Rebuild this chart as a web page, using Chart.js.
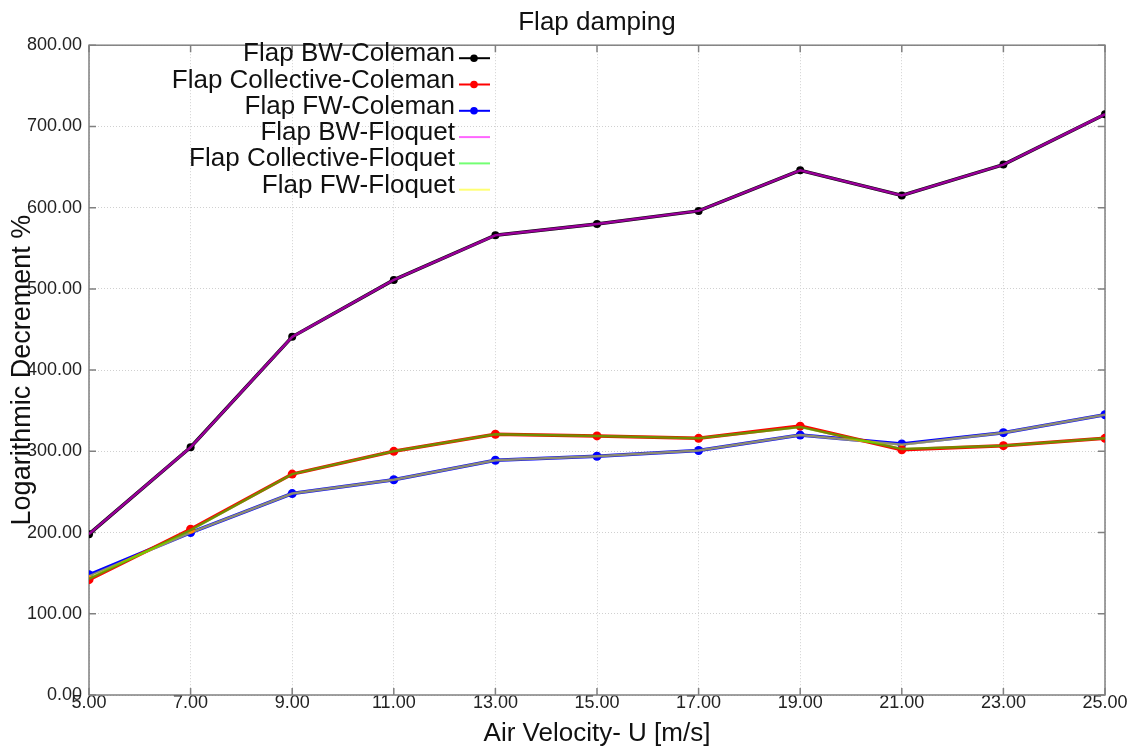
<!DOCTYPE html>
<html>
<head>
<meta charset="utf-8">
<title>Flap damping</title>
<script src="https://cdn.jsdelivr.net/npm/chart.js@4/dist/chart.umd.min.js"></script>
<style>
html, body { margin: 0; padding: 0; background: #fff; }
#wrap { width: 1128px; height: 749px; }
</style>
</head>
<body>
<div id="wrap"><canvas id="plotHere"></canvas></div>
<script>
// air velocity (x) and log decrement values (y)
const velocity = [5, 7, 9, 11, 13, 15, 17, 19, 21, 23, 25];
const bwColeman   = [198, 305, 441, 511, 566, 580, 596, 646, 615, 653, 715];
const collColeman = [142, 204, 272, 300, 321, 319, 316, 331, 302, 307, 316];
const fwColeman   = [148, 200, 248, 265, 289, 294, 301, 320, 309, 323, 345];
const bwFloquet   = [198, 305, 441, 511, 566, 580, 596, 646, 615, 653, 715];
const collFloquet = [143, 203, 272, 300, 321, 319, 316, 330, 303, 307, 316];
const fwFloquet   = [146, 200, 248, 265, 289, 294, 301, 320, 308, 323, 345];
const seriesNames = ["Flap BW-Coleman", "Flap Collective-Coleman", "Flap FW-Coleman",
                     "Flap BW-Floquet", "Flap Collective-Floquet", "Flap FW-Floquet"];

const FONT = '"Liberation Sans", Arial, sans-serif';
Chart.defaults.font.family = FONT;

function pts(ys) {
	return ys.map((y, i) => ({ x: velocity[i], y: y }));
}

function coleman(name, ys, col, r) {
	return { label: name, data: pts(ys), borderColor: col, backgroundColor: col,
		borderWidth: 3.5, pointRadius: r, pointBorderWidth: 0, pointBackgroundColor: col,
		tension: 0, order: 1 };
}
// Floquet lines are half see-through, drawn over the Coleman ones
function floquet(name, ys, col) {
	return { label: name, data: pts(ys), borderColor: col, backgroundColor: col,
		borderWidth: 2.5, pointRadius: 0, tension: 0, order: 0 };
}

// frame round the plot and small inward tick marks
const frame = {
	id: 'frame',
	beforeDatasetsDraw(chart) {
		const { ctx, chartArea: a, scales } = chart;
		ctx.save();
		ctx.strokeStyle = '#808080';
		ctx.lineWidth = 1.5;
		ctx.strokeRect(a.left, a.top, a.right - a.left, a.bottom - a.top);
		ctx.beginPath();
		scales.y.ticks.forEach(t => {
			const p = scales.y.getPixelForValue(t.value);
			ctx.moveTo(a.left, p); ctx.lineTo(a.left + 7, p);
			ctx.moveTo(a.right, p); ctx.lineTo(a.right - 7, p);
		});
		scales.x.ticks.forEach(t => {
			const p = scales.x.getPixelForValue(t.value);
			ctx.moveTo(p, a.bottom); ctx.lineTo(p, a.bottom - 7);
			ctx.moveTo(p, a.top); ctx.lineTo(p, a.top + 7);
		});
		ctx.stroke();
		ctx.restore();
	}
};

// legend: text right aligned, line sample on the right
const flapLegend = {
	id: 'flapLegend',
	afterDraw(chart) {
		const ctx = chart.ctx;
		const a = chart.chartArea;
		const right = a.left + 366;
		ctx.save();
		ctx.font = '26px ' + FONT;
		ctx.textAlign = 'right';
		ctx.textBaseline = 'alphabetic';
		chart.data.datasets.forEach((ds, i) => {
			const base = a.top + 16 + i * 26.3;
			ctx.fillStyle = '#111';
			ctx.fillText(ds.label, right, base);
			const ly = base - 3;
			ctx.strokeStyle = ds.borderColor;
			ctx.lineWidth = 2;
			ctx.beginPath();
			ctx.moveTo(right + 4, ly);
			ctx.lineTo(right + 35, ly);
			ctx.stroke();
			if (ds.pointRadius > 0) {
				ctx.fillStyle = ds.borderColor;
				ctx.beginPath();
				ctx.arc(right + 19, ly, 3.8, 0, 2 * Math.PI);
				ctx.fill();
			}
		});
		ctx.restore();
	}
};

window.addEventListener("load", function () {
	new Chart(document.getElementById('plotHere').getContext('2d'), {
		type: 'line',
		data: {
			datasets: [
				coleman(seriesNames[0], bwColeman, '#000000', 4),
				coleman(seriesNames[1], collColeman, '#ff0000', 4.5),
				coleman(seriesNames[2], fwColeman, '#0000ff', 4.5),
				floquet(seriesNames[3], bwFloquet, 'rgba(255, 0, 255, 0.6)'),
				floquet(seriesNames[4], collFloquet, 'rgba(0, 255, 0, 0.55)'),
				floquet(seriesNames[5], fwFloquet, 'rgba(255, 255, 0, 0.55)')
			]
		},
		options: {
			responsive: true,
			maintainAspectRatio: false,
			animation: false,
			events: [],
			layout: { padding: { left: 0, right: 23, top: 0, bottom: 0 } },
			plugins: {
				legend: { display: false },
				tooltip: { enabled: false },
				title: {
					display: true, text: 'Flap damping', fullSize: false,
					color: '#111', font: { size: 26, weight: 'normal' },
					padding: { top: 7, bottom: 7 }
				}
			},
			scales: {
				x: {
					type: 'linear', min: 5, max: 25,
					ticks: { stepSize: 2, color: '#222', font: { size: 18 }, padding: -3,
						maxRotation: 0, autoSkip: false, callback: v => v.toFixed(2) },
					grid: { color: '#d0d0d0', drawTicks: false },
					border: { display: false, dash: [1, 2] },
					title: { display: true, text: 'Air Velocity- U [m/s]', color: '#111',
						font: { size: 26 }, padding: { top: 0, bottom: 0 } },
					afterFit: s => { s.height = 54; s.paddingLeft = 0; s.paddingRight = 0; }
				},
				y: {
					min: 0, max: 800,
					ticks: { stepSize: 100, color: '#222', font: { size: 18 }, padding: 7,
						callback: v => v.toFixed(2) },
					grid: { color: '#d0d0d0', drawTicks: false },
					border: { display: false, dash: [1, 2] },
					title: { display: true, text: 'Logarithmic Decrement %', color: '#111',
						font: { size: 27 }, padding: { top: 6, bottom: 0 } },
					afterFit: s => { s.width = 89; s.paddingTop = 0; s.paddingBottom = 0; }
				}
			}
		},
		plugins: [frame, flapLegend]
	});
});
</script>
</body>
</html>
